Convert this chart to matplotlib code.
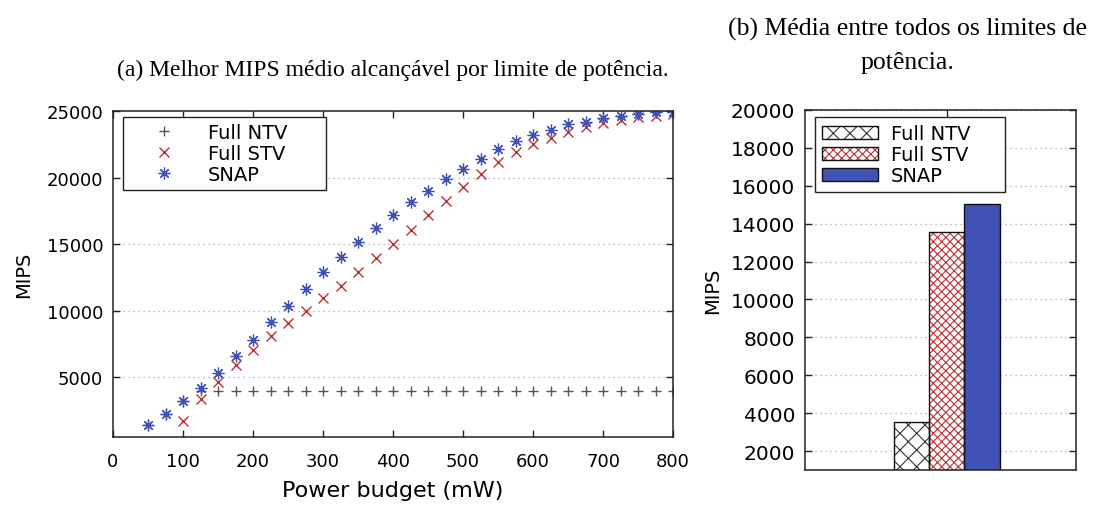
import matplotlib
matplotlib.use("Agg")
import matplotlib.pyplot as plt
from matplotlib.patches import Patch
from matplotlib.legend_handler import HandlerTuple

plt.rcParams['font.family'] = ['DejaVu Sans']
plt.rcParams['hatch.linewidth'] = 0.8

# ---- (a) best average MIPS per power budget ----
ntv_power = [50, 75, 100, 125, 150, 175, 200, 225, 250, 275, 300, 325, 350, 375,
             400, 425, 450, 475, 500, 525, 550, 575, 600, 625, 650, 675, 700,
             725, 750, 775, 800]
ntv_mips = [1420, 2245, 3170, 3920, 3920, 3920, 3920, 3920, 3920, 3920, 3920,
            3920, 3920, 3920, 3920, 3920, 3920, 3920, 3920, 3920, 3920, 3920,
            3920, 3920, 3920, 3920, 3920, 3920, 3920, 3920, 3920]

stv_power = [100, 125, 150, 175, 200, 225, 250, 275, 300, 325, 350, 375, 400,
             425, 450, 475, 500, 525, 550, 575, 600, 625, 650, 675, 700, 725,
             750, 775, 800]
stv_mips = [1700, 3320, 4650, 5900, 7060, 8120, 9100, 10000, 10930, 11880,
            12930, 13980, 15030, 16090, 17180, 18210, 19260, 20240, 21140,
            21890, 22510, 22970, 23440, 23770, 24070, 24320, 24520, 24640, 24740]

snap_power = [50, 75, 100, 125, 150, 175, 200, 225, 250, 275, 300, 325, 350,
              375, 400, 425, 450, 475, 500, 525, 550, 575, 600, 625, 650, 675,
              700, 725, 750, 775, 800]
snap_mips = [1420, 2245, 3170, 4145, 5300, 6550, 7800, 9130, 10375, 11630,
             12930, 14010, 15160, 16210, 17170, 18180, 19020, 19865, 20660,
             21410, 22120, 22760, 23210, 23590, 23990, 24190, 24460, 24590,
             24770, 24900, 24940]

x_ticks_a = [0, 100, 200, 300, 400, 500, 600, 700, 800]
y_ticks_a = [5000, 10000, 15000, 20000, 25000]

# ---- (b) average over all power budgets ----
bar_labels = ["Full NTV", "Full STV", "SNAP"]
bar_mips = [3520, 13560, 15020]
y_ticks_b = [2000, 4000, 6000, 8000, 10000, 12000, 14000, 16000, 18000, 20000]

GRAY = '#555555'
RED = '#b83232'
BLUE = '#4052b5'
SPINE = '#222222'
GRID = '#a5a5a5'

fig = plt.figure(figsize=(11.0, 5.06), dpi=100)

ax1 = fig.add_axes([113 / 1100, 1 - 438 / 506, 560 / 1100, 326 / 506])
ax2 = fig.add_axes([805 / 1100, 1 - 471 / 506, 271 / 1100, 360 / 506])


def style_axes(ax, fs):
    for s in ax.spines.values():
        s.set_linewidth(1.1)
        s.set_color(SPINE)
    ax.tick_params(direction='in', length=5, width=1.0, color=SPINE,
                   top=True, right=True, labelsize=fs, pad=7)
    ax.yaxis.grid(True, linestyle=(0, (1, 3)), color=GRID, linewidth=0.9)
    ax.set_axisbelow(True)


# panel (a)
style_axes(ax1, 13)
ax1.tick_params(axis='x', pad=11)
ax1.plot(ntv_power, ntv_mips, linestyle='none', marker='+', markersize=7.5,
         markeredgewidth=1.0, color=GRAY, label='Full NTV')
ax1.plot(stv_power, stv_mips, linestyle='none', marker='x', markersize=7.5,
         markeredgewidth=1.0, color=RED, label='Full STV')
ax1.plot(snap_power, snap_mips, linestyle='none', marker=(8, 2, 0),
         markersize=8.5, markeredgewidth=0.9, color=BLUE, label='SNAP')
ax1.set_xlim(0, 800)
ax1.set_ylim(500, 25000)
ax1.set_xticks(x_ticks_a)
ax1.set_yticks(y_ticks_a)
ax1.set_xlabel('Power budget (mW)', fontsize=16, labelpad=7)
ax1.set_ylabel('MIPS', fontsize=14, labelpad=10)
leg1 = ax1.legend(loc='upper left', bbox_to_anchor=(0.018, 0.981 - 0.205, 0.3625, 0.205),
                  mode='expand', borderaxespad=0, fontsize=14, numpoints=1,
                  handlelength=3.6, handletextpad=0.45, labelspacing=0.1,
                  borderpad=0.3, fancybox=False, framealpha=1,
                  edgecolor=SPINE)
leg1.get_frame().set_linewidth(1.0)

ax1.set_title('(a) Melhor MIPS médio alcançável por limite de potência.',
              family='Liberation Serif', fontsize=17, pad=26)

# panel (b)
style_axes(ax2, 14.5)
offsets = [-1, 0, 1]
fills = ['white', 'white', BLUE]
hatches = ['xx', 'xxxx', None]
hatch_colors = ['#333333', RED, SPINE]
for off, val, fc, h, hc in zip(offsets, bar_mips, fills, hatches, hatch_colors):
    ax2.bar(off, val, width=1.0, facecolor=fc, edgecolor=hc, hatch=h,
            linewidth=0, zorder=2)
    ax2.bar(off, val, width=1.0, fill=False, edgecolor='#111111',
            linewidth=1.0, zorder=3)
ax2.set_xlim(-4.0, 3.65)
ax2.set_ylim(1000, 20000)
ax2.set_xticks([0])
ax2.set_xticklabels([''])
ax2.set_yticks(y_ticks_b)
ax2.set_ylabel('MIPS', fontsize=14, labelpad=6)

handles = []
for fc, h, hc in zip(fills, hatches, hatch_colors):
    handles.append((Patch(facecolor=fc, edgecolor=hc, hatch=h, linewidth=0),
                    Patch(fill=False, edgecolor='#111111', linewidth=1.0)))
leg2 = ax2.legend(handles, bar_labels,
                  handler_map={tuple: HandlerTuple(ndivide=1)},
                  loc='upper left', bbox_to_anchor=(0.036, 0.98 - 0.205, 0.701, 0.205),
                  mode='expand', borderaxespad=0, fontsize=14,
                  handlelength=2.9, handleheight=0.65, handletextpad=0.65,
                  labelspacing=0.1, borderpad=0.35, fancybox=False,
                  framealpha=1, edgecolor=SPINE)
leg2.get_frame().set_linewidth(1.0)

fig.text(908 / 1100, 1 - 46 / 506,
         '(b) Média entre todos os limites de\npotência.',
         ha='center', va='center', family='Liberation Serif', fontsize=18.5,
         linespacing=1.65)

fig.savefig('out.png', dpi=100)
